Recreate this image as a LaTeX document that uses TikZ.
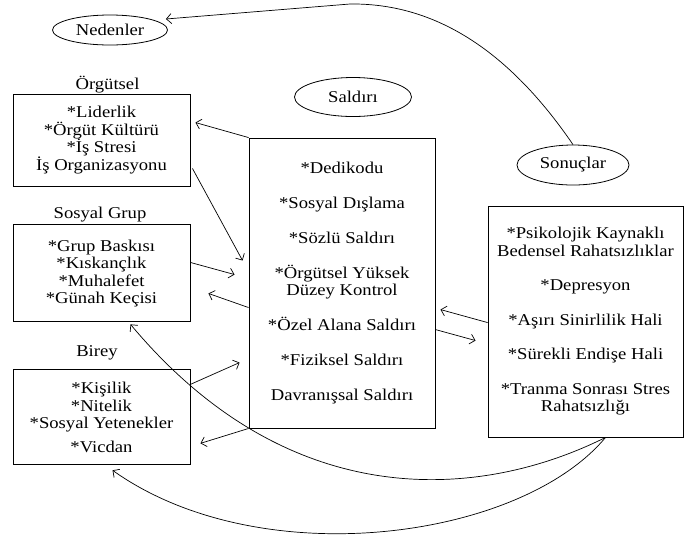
\documentclass[tikz,border=0pt]{standalone}
\usepackage{fontspec}
\setmainfont{Liberation Serif}[FakeStretch=1.13]
\usepackage{tikz}
\usetikzlibrary{calc,positioning,shapes.geometric,arrows.meta}
\tikzstyle{topic} = [ellipse, draw, line width=0.8pt, inner sep=0pt, text centered]
\tikzstyle{listbox} = [rectangle, draw, line width=0.9pt, inner sep=0pt, align=center]
\tikzstyle{heading} = [inner sep=0pt, text centered]
\tikzstyle{connector} = [line width=0.7pt, -{Straight Barb[length=5pt,width=10pt]}]

\begin{document}
\begin{tikzpicture}[x=1pt, y=-1pt, font=\fontsize{16.5}{17.5}\selectfont]
            \useasboundingbox (0,0) rectangle (687,542);
            \node (ned) [topic, minimum width=115pt, minimum height=30pt] at (110,30) {Nedenler};
            \node (sal) [topic, minimum width=117pt, minimum height=39pt] at (353,97) {Saldırı};
            \node (son) [topic, minimum width=112pt, minimum height=40pt] at (573,165) {Sonuçlar};
            \node (orgbox) [listbox, minimum width=177pt, minimum height=92pt] at (101.5,140) {*Liderlik\\*Örgüt Kültürü\\*İş Stresi\\İş Organizasyonu};
            \node (sgbox) [listbox, minimum width=177pt, minimum height=97pt, below=38pt of orgbox] {*Grup Baskısı\\*Kıskançlık\\*Muhalefet\\*Günah Keçisi};
            \node (birbox) [listbox, minimum width=177pt, minimum height=95pt, below=47pt of sgbox] {*Kişilik\\*Nitelik\\*Sosyal Yetenekler\\[6pt]*Vicdan};
            \node (orglabel) [heading, above=0pt of orgbox, xshift=6pt] {Örgütsel};
            \node (sglabel) [heading, above=2pt of sgbox, xshift=-1.5pt] {Sosyal Grup};
            \node (birlabel) [heading, above=9pt of birbox, xshift=-4.5pt] {Birey};
            \node (salbox) [listbox, minimum width=186pt, minimum height=290pt] at (342,283) {*Dedikodu\\[17.5pt]*Sosyal Dışlama\\[17.5pt]*Sözlü Saldırı\\[17.5pt]*Örgütsel Yüksek\\Düzey Kontrol\\[17.5pt]*Özel Alana Saldırı\\[17.5pt]*Fiziksel Saldırı\\[17.5pt]Davranışsal Saldırı};
            \node (sonbox) [listbox, minimum width=195pt, minimum height=231pt] at (585.5,321.5) {*Psikolojik Kaynaklı\\Bedensel Rahatsızlıklar\\[17pt]*Depresyon\\[17pt]*Aşırı Sinirlilik Hali\\[17pt]*Sürekli Endişe Hali\\[17pt]*Tranma Sonrası Stres\\Rahatsızlığı};
            \draw [connector] (son.north) .. controls (505,45) and (430,3) .. (350,4) -- ($(ned.east)+(-2,-11)$);
            \draw [connector] (salbox.north west) -- ($(orgbox.north east)+(5,29)$);
            \draw [connector] ($(orgbox.south east)+(2,-18)$) -- ($(salbox.north west)+(-6,123)$);
            \draw [connector] ($(sgbox.north east)+(0,38)$) -- ($(salbox.north west)+(-14,137)$);
            \draw [connector] ($(salbox.north west)+(0,170)$) -- ($(sgbox.north east)+(18,69)$);
            \draw [connector] ($(birbox.north east)+(0,15)$) -- ($(salbox.north west)+(-9,225)$);
            \draw [connector] (salbox.south west) -- ($(birbox.north east)+(10,74)$);
            \draw [connector] ($(sonbox.north west)+(0,117)$) -- ($(salbox.north east)+(5,172)$);
            \draw [connector] ($(salbox.north east)+(0,192)$) -- ($(sonbox.north west)+(-12,135)$);
            \draw [connector] ($(sonbox.south)+(20,0)$) .. controls (480,500) and (290,515) .. ($(sgbox.south)+(29,2)$);
            \draw [connector] ($(sonbox.south)+(20,0)$) .. controls (520,540) and (260,575) .. ($(birbox.south)+(11,5)$);
        \end{tikzpicture}
\end{document}
